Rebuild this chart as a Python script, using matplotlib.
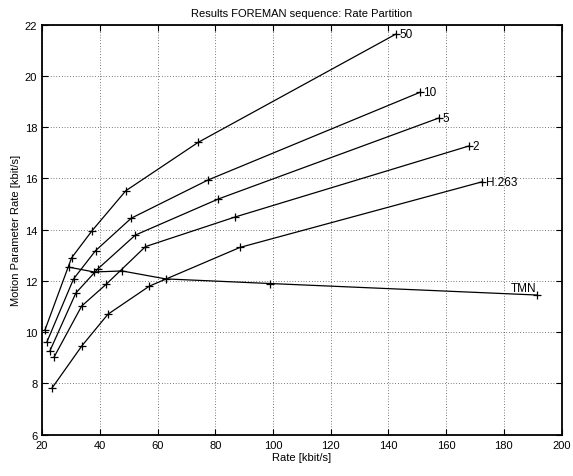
import numpy as np
import matplotlib.pyplot as plt

plt.rcParams['font.family'] = ['Liberation Sans', 'DejaVu Sans']

# rate [kbit/s] and motion parameter rate [kbit/s] for each curve
labels = ['50', '10', '5', '2', 'H.263', 'TMN']
rate_50 = [21.0, 30.2, 37.3, 49.0, 74.1, 142.7]
mot_50 = [10.09, 12.9, 13.96, 15.52, 17.41, 21.64]
rate_10 = [21.7, 30.9, 38.5, 50.9, 77.5, 150.9]
mot_10 = [9.63, 12.08, 13.18, 14.45, 15.94, 19.36]
rate_5 = [22.7, 31.7, 39.3, 52.3, 81.1, 157.5]
mot_5 = [9.27, 11.53, 12.47, 13.79, 15.2, 18.36]
rate_2 = [24.1, 33.7, 42.2, 55.8, 87.0, 168.0]
mot_2 = [9.02, 11.02, 11.87, 13.34, 14.5, 17.27]
rate_h263 = [23.5, 33.8, 42.8, 57.2, 88.6, 172.5]
mot_h263 = [7.83, 9.47, 10.7, 11.8, 13.31, 15.87]
rate_tmn = [29.2, 38.0, 47.7, 62.8, 98.9, 191.6]
mot_tmn = [12.54, 12.35, 12.39, 12.08, 11.9, 11.45]

rates = [rate_50, rate_10, rate_5, rate_2, rate_h263, rate_tmn]
mots = [mot_50, mot_10, mot_5, mot_2, mot_h263, mot_tmn]

fig = plt.figure(figsize=(5.73, 4.77), dpi=100)
ax = fig.add_axes([0.0735, 0.0866, 0.9065, 0.8595])

for name, x, y in zip(labels, rates, mots):
    ax.plot(x, y, '-+', color='black', lw=0.9, markersize=6, markeredgewidth=0.9)
    if name == 'TMN':
        ax.annotate(name, (x[-1], y[-1]), xytext=(-1, 1), textcoords='offset points',
                    ha='right', va='bottom', fontsize=8.5)
    else:
        ax.annotate(name, (x[-1], y[-1]), xytext=(2.5, 0), textcoords='offset points',
                    ha='left', va='center', fontsize=8.5)

ax.set_xlim(20, 200)
ax.set_ylim(6, 22)
ax.set_xticks(np.arange(20, 201, 20))
ax.set_yticks(np.arange(6, 23, 2))
ax.grid(True, linestyle=(0, (1, 3)), color='black', linewidth=0.5)
ax.tick_params(direction='in', top=True, right=True, labelsize=8, length=4, width=0.8)
for s in ax.spines.values():
    s.set_linewidth(1.3)

ax.set_xlabel('Rate [kbit/s]', fontsize=8, labelpad=2)
ax.set_ylabel('Motion Parameter Rate [kbit/s]', fontsize=8, labelpad=3)
ax.set_title('Results FOREMAN sequence: Rate Partition', fontsize=8, pad=6)

fig.savefig('out.png', dpi=100)
